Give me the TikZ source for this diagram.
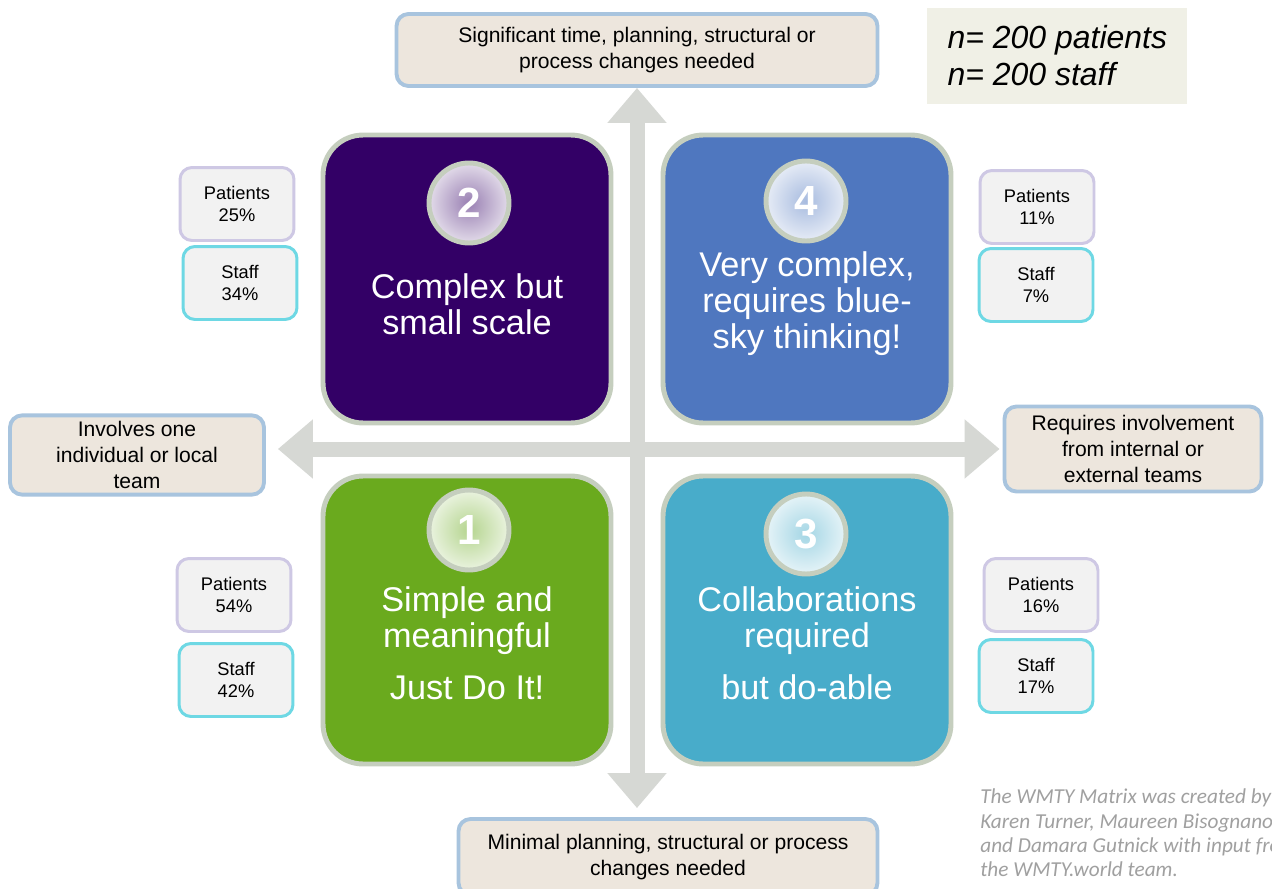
\documentclass[tikz,border=0pt]{standalone}
\usepackage{fontspec}
\setmainfont{Liberation Sans}
\newfontfamily\credfont{Carlito}
\usetikzlibrary{arrows.meta,positioning}

\definecolor{qpurple}{RGB}{51,0,102}
\definecolor{qblue}{RGB}{79,119,191}
\definecolor{qgreen}{RGB}{106,170,30}
\definecolor{qteal}{RGB}{72,172,202}
\definecolor{rim}{RGB}{197,206,190}
\definecolor{axisgrey}{RGB}{214,216,212}
\definecolor{labfill}{RGB}{237,230,221}
\definecolor{labrim}{RGB}{168,196,222}
\definecolor{smallfill}{RGB}{242,242,242}
\definecolor{patrim}{RGB}{206,200,228}
\definecolor{staffrim}{RGB}{110,216,228}
\definecolor{nfill}{RGB}{240,240,230}
\definecolor{credgrey}{RGB}{160,160,160}

\begin{document}
\begin{tikzpicture}[x=0.02cm,y=-0.02cm,
  quad/.style={draw=rim,line width=2.8pt,rounded corners=0.8cm,
    minimum width=5.76cm,minimum height=5.76cm},
  badge/.style={circle,draw=rim,line width=2.8pt,minimum size=1.6cm,
    inner color=#1!50!white,outer color=#1!14!white,text=white,
    font=\bfseries\fontsize{24}{24}\selectfont},
  qtext/.style={text=white,align=center,font=\fontsize{19.5}{20.5}\selectfont},
  lab/.style={draw=labrim,fill=labfill,line width=2.2pt,rounded corners=0.24cm,
    align=center,font=\fontsize{12}{14.8}\selectfont},
  pat/.style={draw=patrim,fill=smallfill,line width=1.7pt,rounded corners=0.24cm,
    minimum width=2.28cm,minimum height=1.46cm,align=center,
    font=\fontsize{10.4}{13}\selectfont},
  staff/.style={pat,draw=staffrim},
  axis/.style={draw=axisgrey,line width=0.3cm,
    {Triangle[width=1.14cm,length=0.7cm]}-{Triangle[width=1.14cm,length=0.7cm]}}]
  \useasboundingbox (0,0) rectangle (1272,889);
  \fill[white] (0,0) rectangle (1272,889);

  \node[lab,minimum width=9.62cm,minimum height=1.44cm] (top) at (637,50)
    {Significant time, planning, structural or\\process changes needed};
  \node[lab,minimum width=8.38cm,minimum height=1.52cm] (bottom) at (668,857)
    {Minimal planning, structural or process\\changes needed};
  \node[lab,minimum width=5.08cm,minimum height=1.46cm] (left) at (137,455)
    {Involves one\\individual or local\\team};
  \node[lab,minimum width=5.14cm,minimum height=1.7cm] (right) at (1133,449)
    {Requires involvement\\from internal or\\external teams};

  \draw[axis,shorten >=0.18cm] (top.south) -- (bottom.north-|top.south);
  \draw[axis,shorten <=0.24cm,shorten >=0.06cm] (left.east|-0,449) -- (right.west|-0,449);

  \node[quad,fill=qpurple] (q2) at (467,279) {};
  \node[quad,fill=qblue]   (q4) at (807,279) {};
  \node[quad,fill=qgreen]  (q1) at (467,620) {};
  \node[quad,fill=qteal]   (q3) at (807,620) {};

  \node[badge=qpurple] (b2) at (469,203) {2};
  \node[badge=qblue]   (b4) at (806,201) {4};
  \node[badge=qgreen]  (b1) at (469,530) {1};
  \node[badge=qteal]   (b3) at (806,534) {3};

  \node[qtext] (t2) at (467,304) {Complex but\\small scale};
  \node[qtext] (t4) at (807,304) {Very complex,\\requires blue-\\sky thinking!};
  \node[qtext] (t1) at (467,643) {Simple and\\meaningful\\[9pt]Just Do It!};
  \node[qtext] (t3) at (807,643) {Collaborations\\required\\[9pt]but do-able};

  \node[pat]   (p2) at (237,204)  {Patients\\25\%};
  \node[staff] (s2) at (240,283)  {Staff\\34\%};
  \node[pat]   (p4) at (1037,207) {Patients\\11\%};
  \node[staff] (s4) at (1036,285) {Staff\\7\%};
  \node[pat]   (p1) at (234,595)  {Patients\\54\%};
  \node[staff] (s1) at (236,680)  {Staff\\42\%};
  \node[pat]   (p3) at (1041,595) {Patients\\16\%};
  \node[staff] (s3) at (1036,676) {Staff\\17\%};

  \node[fill=nfill,anchor=west,minimum width=5.2cm,minimum height=1.92cm,
    inner xsep=0.38cm,align=left,font=\itshape\fontsize{18.2}{21}\selectfont]
    (n) at (927,56) {n= 200 patients\\n= 200 staff};

  \node[anchor=west,align=left,text=credgrey,inner sep=0pt,
    font=\credfont\itshape\fontsize{12.1}{13.8}\selectfont] (credit) at (980,833)
    {The WMTY Matrix was created by\\Karen Turner, Maureen Bisognano\\
     and Damara Gutnick with input from\\the WMTY.world team.};
\end{tikzpicture}
\end{document}
